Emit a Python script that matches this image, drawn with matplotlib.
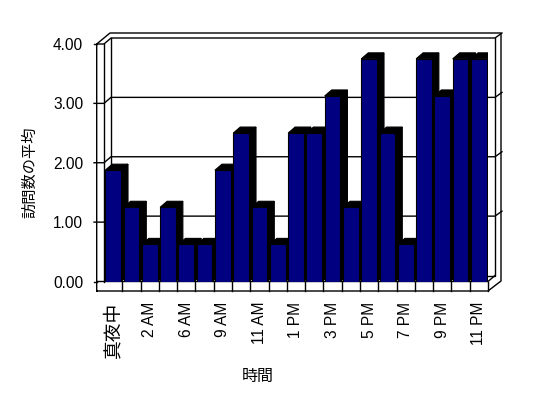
import matplotlib
matplotlib.use('Agg')
import matplotlib.pyplot as plt
from matplotlib.patches import Polygon
import numpy as np

plt.rcParams['font.family'] = ['Liberation Sans', 'Noto Sans CJK JP']

# hours that have visits (only every other one is labelled)
hours = ['真夜中', '1 AM', '2 AM', '3 AM', '6 AM', '7 AM', '9 AM', '10 AM', '11 AM', '正午',
         '1 PM', '2 PM', '3 PM', '4 PM', '5 PM', '6 PM', '7 PM', '8 PM', '9 PM', '10 PM', '11 PM']
avg_visits = [1.875, 1.25, 0.625, 1.25, 0.625, 0.625, 1.875, 2.5, 1.25, 0.625,
              2.5, 2.5, 3.125, 1.25, 3.75, 2.5, 0.625, 3.75, 3.125, 3.75, 3.75]
yticks = [0, 1, 2, 3, 4]
ytick_labels = ['0.00', '1.00', '2.00', '3.00', '4.00']

W, H = 548, 398
fig = plt.figure(figsize=(W / 100, H / 100), dpi=100)

# front plane of the 3d box, pixels
FL, FR, FB, FT = 104, 488, 281.5, 44
ax = fig.add_axes([FL / W, 1 - FB / H, (FR - FL) / W, (FB - FT) / H])
ax.patch.set_alpha(0)
n = len(hours)
ax.set_xlim(-0.5, n - 0.5)
ax.set_ylim(yticks[0], yticks[-1])
sx = (FR - FL) / n
sy = (FB - FT) / (yticks[-1] - yticks[0])

def P(xp, yp):
    return (-0.5 + (xp - FL) / sx, (FB - yp) / sy)

def line(pts, z=1):
    xs, ys = zip(*[P(*p) for p in pts])
    ax.plot(xs, ys, color='black', lw=1, clip_on=False, zorder=z)

DX, DY = 7 / sx, 6 / sy

# walls and floor
line([(96.7, 291), (96.7, 44), (110, 33), (501, 33), (501, 281), (488, 291), (96.7, 291)])
line([(96.7, 44), (104, 44), (111, 38), (495, 38), (502, 33)])
line([(104, 44), (104, FB)])
line([(111, 38), (111, FB - 6), (495, FB - 6), (495, 38)])
line([(96.7, FB), (488, FB), (495, FB - 6)])
line([(488, FB), (488, 291)])
for i in range(1, n):
    xp = FL + i * sx
    line([(xp, FB), (xp, 291)])
for k in yticks:
    yp = FB - k * sy
    if 0 < k < yticks[-1]:
        line([(94, yp), (104, yp), (111, yp - 6), (495, yp - 6), (502, yp - 11)])
    else:
        line([(94, yp), (96.7, yp)])

# bars with depth faces
x = np.arange(n)
bars = ax.bar(x, avg_visits, width=0.86, color='#000080', edgecolor='black', lw=0.8)
for i, b in enumerate(bars):
    x0 = b.get_x()
    x1 = x0 + b.get_width()
    h = b.get_height()
    side = Polygon([(x1, 0), (x1 + DX, DY), (x1 + DX, h + DY), (x1, h)],
                   facecolor='black', edgecolor='black', lw=0.8, zorder=2 + 2 * i)
    top = Polygon([(x0, h), (x0 + DX, h + DY), (x1 + DX, h + DY), (x1, h)],
                  facecolor='black', edgecolor='black', lw=0.8, zorder=2 + 2 * i)
    ax.add_patch(side)
    ax.add_patch(top)
    b.set_zorder(3 + 2 * i)

for s in ax.spines.values():
    s.set_visible(False)
ax.set_xticks(x[::2], hours[::2], rotation=90, fontsize=11.2)
ax.set_yticks(yticks, ytick_labels, fontsize=11.2)
ax.tick_params(axis='x', length=0, pad=14.5)
ax.tick_params(axis='y', length=0, pad=15)
for t in ax.get_xticklabels():
    t.set_va('top')
    if t.get_text() == hours[0]:
        t.set_fontsize(13.5)

fig.text(30 / W, 1 - 172 / H, '訪問数の平均', rotation=90, ha='center', va='center', fontsize=11)
fig.text(258 / W, 1 - 376 / H, '時間', ha='center', va='center', fontsize=11.5)

fig.savefig('out.png', dpi=100, facecolor='white')
